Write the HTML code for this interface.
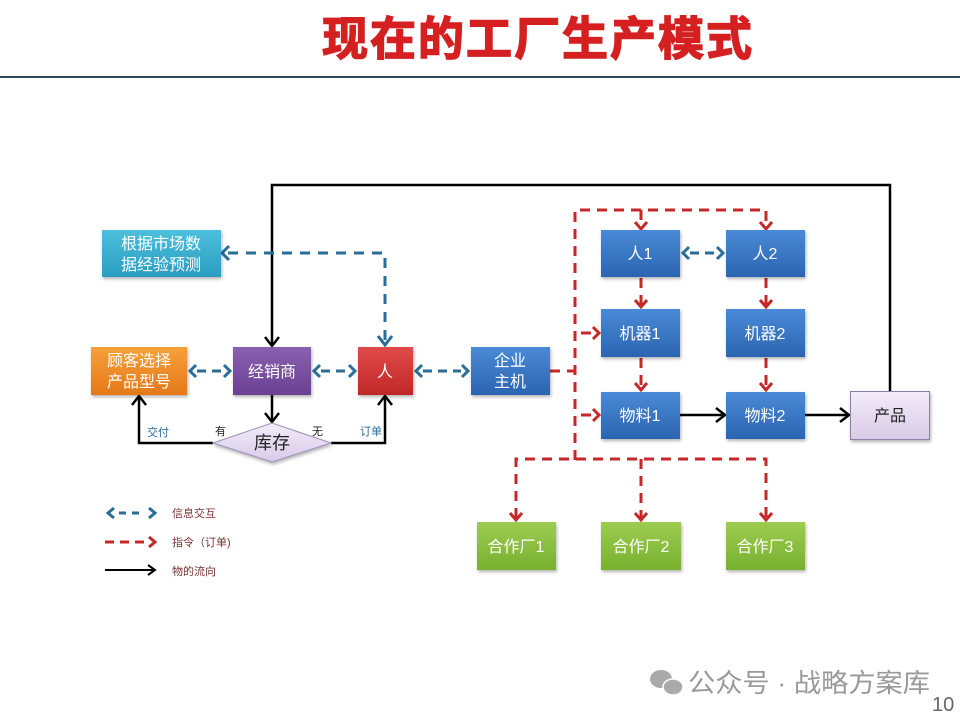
<!DOCTYPE html>
<html><head><meta charset="utf-8"><style>
html,body{margin:0;padding:0;background:#fff;width:960px;height:720px;overflow:hidden}
svg{display:block}
text{font-family:"Liberation Sans","Noto Sans CJK SC",sans-serif}
</style></head><body>
<svg width="960" height="720" viewBox="0 0 960 720" xmlns="http://www.w3.org/2000/svg">
<defs>
<linearGradient id="gBlue" x1="0" y1="0" x2="0" y2="1"><stop offset="0" stop-color="#4a8ad6"/><stop offset="1" stop-color="#2b64b0"/></linearGradient>
<linearGradient id="gTeal" x1="0" y1="0" x2="0" y2="1"><stop offset="0" stop-color="#4cc0dc"/><stop offset="1" stop-color="#2a9cc0"/></linearGradient>
<linearGradient id="gOr" x1="0" y1="0" x2="0" y2="1"><stop offset="0" stop-color="#f7a03a"/><stop offset="1" stop-color="#e47818"/></linearGradient>
<linearGradient id="gPu" x1="0" y1="0" x2="0" y2="1"><stop offset="0" stop-color="#8a60b0"/><stop offset="1" stop-color="#6a4092"/></linearGradient>
<linearGradient id="gRed" x1="0" y1="0" x2="0" y2="1"><stop offset="0" stop-color="#e04a48"/><stop offset="1" stop-color="#c02828"/></linearGradient>
<linearGradient id="gGr" x1="0" y1="0" x2="0" y2="1"><stop offset="0" stop-color="#9ccc50"/><stop offset="1" stop-color="#78b030"/></linearGradient>
<linearGradient id="gLav" x1="0" y1="0" x2="0" y2="1"><stop offset="0" stop-color="#f2ecf8"/><stop offset="1" stop-color="#d8cae8"/></linearGradient>
<filter id="sh" x="-10%" y="-10%" width="130%" height="140%"><feDropShadow dx="1" dy="2" stdDeviation="1.5" flood-color="#000" flood-opacity="0.3"/></filter>
</defs>

<!-- title -->
<text x="538" y="55" text-anchor="middle" font-size="46" font-weight="bold" fill="#d42020" stroke="#d42020" stroke-width="1.5" style="letter-spacing:2px">现在的工厂生产模式</text>
<rect x="0" y="76" width="960" height="2" fill="#2e4a5a"/>

<!-- black flow lines -->
<g stroke="#000" stroke-width="2.5" fill="none">
<polyline points="890,391 890,185 272,185 272,345"/>
<polyline points="265,337 272,346 279,337"/>
<line x1="272" y1="395" x2="272" y2="421"/>
<polyline points="265,413 272,422 279,413"/>
<polyline points="213,443 139,443 139,397"/>
<polyline points="132,405 139,396 146,405"/>
<polyline points="331,443 385,443 385,397"/>
<polyline points="378,405 385,396 392,405"/>
<line x1="680" y1="415" x2="724" y2="415"/>
<polyline points="716,408 725,415 716,422"/>
<line x1="805" y1="415" x2="848" y2="415"/>
<polyline points="840,408 849,415 840,422"/>
</g>

<!-- blue dashed -->
<g stroke="#2a6e98" stroke-width="3" fill="none">
<polyline points="228,253 385,253 385,340" stroke-dasharray="10,8"/>
<polyline points="229,246 222,253 229,260"/>
<polyline points="378,336 385,345 392,336"/>
<g stroke-dasharray="9,6">
<line x1="197" y1="371" x2="224" y2="371"/>
<line x1="321" y1="371" x2="348" y2="371"/>
<line x1="423" y1="371" x2="461" y2="371"/>
<line x1="690" y1="253" x2="716" y2="253"/>
</g>
<polyline points="196,365 190,371 196,377"/><polyline points="224,365 230,371 224,377"/>
<polyline points="320,365 314,371 320,377"/><polyline points="349,365 355,371 349,377"/>
<polyline points="422,365 416,371 422,377"/><polyline points="462,365 468,371 462,377"/>
<polyline points="689,247 683,253 689,259"/><polyline points="717,247 723,253 717,259"/>
</g>

<!-- red dashed -->
<g stroke="#c42828" stroke-width="3" fill="none" stroke-dasharray="10,7">
<polyline points="550,371 575,371"/>
<polyline points="575,460 575,210 766,210 766,224"/>
<line x1="641" y1="210" x2="641" y2="224"/>
<polyline points="516,518 516,459 766,459 766,518"/>
<line x1="641" y1="459" x2="641" y2="518"/>
<line x1="641" y1="278" x2="641" y2="305"/>
<line x1="766" y1="278" x2="766" y2="305"/>
<line x1="641" y1="358" x2="641" y2="388"/>
<line x1="766" y1="358" x2="766" y2="388"/>
<line x1="581" y1="333" x2="597" y2="333"/>
<line x1="581" y1="415" x2="597" y2="415"/>
</g>
<g stroke="#c42828" stroke-width="3" fill="none">
<polyline points="635,222 641,229 647,222"/><polyline points="760,222 766,229 772,222"/>
<polyline points="635,300 641,307 647,300"/><polyline points="760,300 766,307 772,300"/>
<polyline points="635,383 641,390 647,383"/><polyline points="760,383 766,390 772,383"/>
<polyline points="593,327 599,333 593,339"/><polyline points="593,409 599,415 593,421"/>
<polyline points="510,513 516,520 522,513"/><polyline points="635,513 641,520 647,513"/><polyline points="760,513 766,520 772,513"/>
</g>

<!-- boxes -->
<g filter="url(#sh)">
<rect x="102" y="230" width="119" height="47" fill="url(#gTeal)"/>
<rect x="91" y="347" width="96" height="48" fill="url(#gOr)"/>
<rect x="233" y="347" width="78" height="48" fill="url(#gPu)"/>
<rect x="358" y="347" width="55" height="48" fill="url(#gRed)"/>
<rect x="471" y="347" width="79" height="48" fill="url(#gBlue)"/>
<rect x="601" y="230" width="79" height="47" fill="url(#gBlue)"/>
<rect x="726" y="230" width="79" height="47" fill="url(#gBlue)"/>
<rect x="601" y="309" width="79" height="48" fill="url(#gBlue)"/>
<rect x="726" y="309" width="79" height="48" fill="url(#gBlue)"/>
<rect x="601" y="392" width="79" height="47" fill="url(#gBlue)"/>
<rect x="726" y="392" width="79" height="47" fill="url(#gBlue)"/>
<rect x="850.5" y="391.5" width="79" height="48" fill="url(#gLav)" stroke="#8a80a8"/>
<rect x="477" y="522" width="79" height="48" fill="url(#gGr)"/>
<rect x="601" y="522" width="80" height="48" fill="url(#gGr)"/>
<rect x="726" y="522" width="79" height="48" fill="url(#gGr)"/>
<polygon points="213,443 272,423 331,443 272,462" fill="url(#gLav)" stroke="#9a90b8"/>
</g>

<g fill="#fff" font-size="16" text-anchor="middle">
<text x="161" y="249">根据市场数</text><text x="161" y="270">据经验预测</text>
<text x="139" y="366">顾客选择</text><text x="139" y="387">产品型号</text>
<text x="272" y="377">经销商</text>
<text x="385" y="377">人</text>
<text x="510" y="366">企业</text><text x="510" y="387">主机</text>
<text x="640" y="259">人1</text><text x="765" y="259">人2</text>
<text x="640" y="339">机器1</text><text x="765" y="339">机器2</text>
<text x="640" y="421">物料1</text><text x="765" y="421">物料2</text>
<text x="516" y="552">合作厂1</text><text x="641" y="552">合作厂2</text><text x="765" y="552">合作厂3</text>
</g>
<text x="890" y="421" font-size="16" text-anchor="middle" fill="#222">产品</text>
<text x="272" y="449" font-size="18" text-anchor="middle" fill="#222">库存</text>
<g font-size="11">
<text x="147" y="436" fill="#2a6e98">交付</text>
<text x="215" y="435" fill="#222">有</text>
<text x="312" y="435" fill="#222">无</text>
<text x="360" y="435" fill="#2a6e98">订单</text>
</g>

<!-- legend -->
<g stroke-width="3" fill="none">
<line x1="119" y1="513" x2="143" y2="513" stroke="#2a6e98" stroke-dasharray="7,6"/>
<polyline points="114,508 108,513 114,518" stroke="#2a6e98"/>
<polyline points="149,508 155,513 149,518" stroke="#2a6e98"/>
<line x1="105" y1="542" x2="149" y2="542" stroke="#c42828" stroke-dasharray="9,6"/>
<polyline points="149,537 155,542 149,547" stroke="#c42828"/>
<line x1="105" y1="570" x2="154" y2="570" stroke="#000" stroke-width="2"/>
<polyline points="148,565 155,570 148,575" stroke="#000" stroke-width="2"/>
</g>
<g font-size="11" fill="#7a3030">
<text x="172" y="517">信息交互</text>
<text x="172" y="546">指令（订单)</text>
<text x="172" y="575">物的流向</text>
</g>

<!-- watermark -->
<g fill="#aaa">
<ellipse cx="661" cy="679" rx="11" ry="9"/>
<ellipse cx="673" cy="687" rx="10" ry="8" stroke="#fff" stroke-width="1.5"/>
</g>
<text x="688" y="692" font-size="26" fill="#999" textLength="242" lengthAdjust="spacingAndGlyphs">公众号 · 战略方案库</text>
<text x="932" y="711" font-size="20" fill="#666">10</text>
</svg>
</body></html>
